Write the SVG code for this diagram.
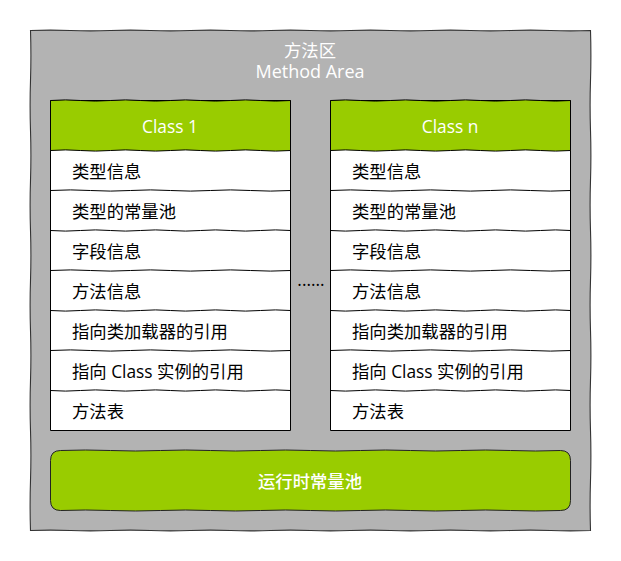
<svg xmlns="http://www.w3.org/2000/svg" width="621" height="561" viewBox="0 0 621 561">
<style>
text{font-family:"Open Sans","Noto Sans CJK SC",sans-serif;font-size:17.33px;fill:#000}
.w{fill:#fff}
.c{text-anchor:middle}
.s{stroke:#000;stroke-width:1;fill:none}
.o{stroke:#333;stroke-width:1.1}
</style>
<rect width="621" height="561" fill="#fff"/>
<g id="method-area">
<path class="o" fill="#b3b3b3" d="M30.500 30.500q20 -0.800 40 0t40 0t40 0t40 0t40 0t40 0t40 0t40 0t40 0t40 0t40 0t40 0t40 0t40 0q0.800 25 0 50t0 50t0 50t0 50t0 50t0 50t0 50t0 50t0 50t0 50q-20 0.800 -40 0t-40 0t-40 0t-40 0t-40 0t-40 0t-40 0t-40 0t-40 0t-40 0t-40 0t-40 0t-40 0t-40 0q-0.800 -25 0 -50t0 -50t0 -50t0 -50t0 -50t0 -50t0 -50t0 -50t0 -50t0 -50z"/>
<text class="w c" x="310" y="57">方法区</text>
<text class="w c" x="310" y="78" style="font-size:18px">Method Area</text>
</g>
<g id="class-1" transform="translate(50 100)">
<path id="class-1-body" fill="#fff" stroke="#000" d="M0.500 0.500H240.500V330.500H0.500z"/>
<path fill="#9c0" stroke="#000" d="M0.500 0.500q15 -1.200 30 0t30 0t30 0t30 0t30 0t30 0t30 0t30 0v50q-15 1.200 -30 0t-30 0t-30 0t-30 0t-30 0t-30 0t-30 0t-30 0z"/>
<text class="w c" x="120" y="33">Class 1</text>
<path class="s" d="M0.500 90.500q20 -1.200 40 0t40 0t40 0t40 0t40 0t40 0"/>
<path class="s" d="M0.500 130.500q15 1.200 30 0t30 0t30 0t30 0t30 0t30 0t30 0t30 0"/>
<path class="s" d="M0.500 170.500q20 -1.200 40 0t40 0t40 0t40 0t40 0t40 0"/>
<path class="s" d="M0.500 210.500q15 1.200 30 0t30 0t30 0t30 0t30 0t30 0t30 0t30 0"/>
<path class="s" d="M0.500 250.500q20 -1.200 40 0t40 0t40 0t40 0t40 0t40 0"/>
<path class="s" d="M0.500 290.500q15 1.200 30 0t30 0t30 0t30 0t30 0t30 0t30 0t30 0"/>
<text x="22" y="78">类型信息</text>
<text x="22" y="118">类型的常量池</text>
<text x="22" y="158">字段信息</text>
<text x="22" y="198">方法信息</text>
<text x="22" y="238">指向类加载器的引用</text>
<text x="22" y="278">指向 Class 实例的引用</text>
<text x="22" y="318">方法表</text>
</g>
<g id="class-n" transform="translate(330 100)">
<path id="class-n-body" fill="#fff" stroke="#000" d="M0.500 0.500H240.500V330.500H0.500z"/>
<path fill="#9c0" stroke="#000" d="M0.500 0.500q15 -1.200 30 0t30 0t30 0t30 0t30 0t30 0t30 0t30 0v50q-15 1.200 -30 0t-30 0t-30 0t-30 0t-30 0t-30 0t-30 0t-30 0z"/>
<text class="w c" x="120" y="33">Class n</text>
<path class="s" d="M0.500 90.500q20 -1.200 40 0t40 0t40 0t40 0t40 0t40 0"/>
<path class="s" d="M0.500 130.500q15 1.200 30 0t30 0t30 0t30 0t30 0t30 0t30 0t30 0"/>
<path class="s" d="M0.500 170.500q20 -1.200 40 0t40 0t40 0t40 0t40 0t40 0"/>
<path class="s" d="M0.500 210.500q15 1.200 30 0t30 0t30 0t30 0t30 0t30 0t30 0t30 0"/>
<path class="s" d="M0.500 250.500q20 -1.200 40 0t40 0t40 0t40 0t40 0t40 0"/>
<path class="s" d="M0.500 290.500q15 1.200 30 0t30 0t30 0t30 0t30 0t30 0t30 0t30 0"/>
<text x="22" y="78">类型信息</text>
<text x="22" y="118">类型的常量池</text>
<text x="22" y="158">字段信息</text>
<text x="22" y="198">方法信息</text>
<text x="22" y="238">指向类加载器的引用</text>
<text x="22" y="278">指向 Class 实例的引用</text>
<text x="22" y="318">方法表</text>
</g>
<g id="ellipsis">
<text class="c" x="311" y="286">......</text>
</g>
<g id="runtime-constant-pool">
<path fill="#9c0" stroke="#222" d="M60.500 450.500q25 -1 50 0t50 0t50 0t50 0t50 0t50 0t50 0t50 0t50 0t50 0q10 0 10 10v40q0 10 -10 10q-25 1 -50 0t-50 0t-50 0t-50 0t-50 0t-50 0t-50 0t-50 0t-50 0t-50 0q-10 0 -10 -10v-40q0 -10 10 -10z"/>
<text class="w c" x="310" y="488" style="font-weight:500">运行时常量池</text>
</g>
</svg>
